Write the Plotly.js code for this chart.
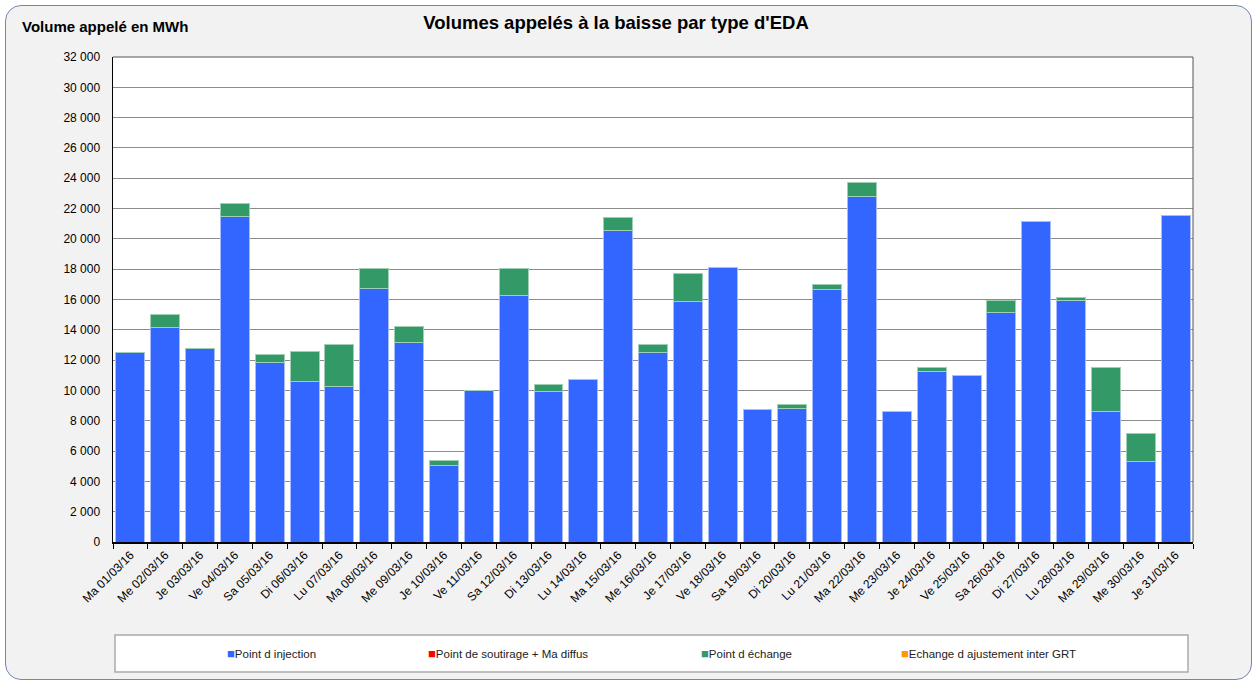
<!DOCTYPE html>
<html>
<head>
<meta charset="utf-8">
<script src="https://cdn.plot.ly/plotly-3.0.1.min.js"></script>
<style>
html,body{margin:0;padding:0;background:#ffffff;}
#frame{position:absolute;left:5px;top:5px;width:1247px;height:675px;box-sizing:border-box;border:1.5px solid #7088ab;border-radius:16px;background:#f2f2f2;}
#chart{position:absolute;left:0;top:0;width:1254px;height:680px;}
</style>
</head>
<body>
<div id="frame"></div>
<div id="chart"></div>
<script>
const categories = ["Ma 01/03/16","Me 02/03/16","Je 03/03/16","Ve 04/03/16","Sa 05/03/16","Di 06/03/16","Lu 07/03/16","Ma 08/03/16","Me 09/03/16","Je 10/03/16","Ve 11/03/16","Sa 12/03/16","Di 13/03/16","Lu 14/03/16","Ma 15/03/16","Me 16/03/16","Je 17/03/16","Ve 18/03/16","Sa 19/03/16","Di 20/03/16","Lu 21/03/16","Ma 22/03/16","Me 23/03/16","Je 24/03/16","Ve 25/03/16","Sa 26/03/16","Di 27/03/16","Lu 28/03/16","Ma 29/03/16","Me 30/03/16","Je 31/03/16"];
const injection = [12490,14180,12760,21500,11870,10580,10290,16750,13190,5040,9990,16270,9960,10690,20580,12530,15900,18120,8750,8840,16650,22780,8640,11240,10980,15170,21150,15940,8640,5340,21550];
const soutirage = [0,0,0,0,0,0,0,0,0,0,0,0,0,0,0,0,0,0,0,0,0,0,0,0,0,0,0,0,0,0,0];
const echange = [0,820,0,820,510,2000,2750,1300,1040,350,0,1780,440,0,840,510,1800,0,0,240,330,950,0,260,0,750,0,220,2860,1810,0];
const ajustement = [0,0,0,0,0,0,0,0,0,0,0,0,0,0,0,0,0,0,0,0,0,0,0,0,0,0,0,0,0,0,0];
const seriesNames = ["Point d injection","Point de soutirage + Ma diffus","Point d échange","Echange d ajustement inter GRT"];
const yTicks = [0,2000,4000,6000,8000,10000,12000,14000,16000,18000,20000,22000,24000,26000,28000,30000,32000];

const colors = ["#3366ff","#ff0000","#339966","#ff9900"];
const lineColors = ["#a9bbff","#ff9999","#9fd0b5","#ffcc80"];
const vals = [injection, soutirage, echange, ajustement];
const traces = vals.map((v,i)=>({
  type:"bar", x:categories, y:v, name:seriesNames[i],
  marker:{color:colors[i], line:{color:lineColors[i], width:(v.some(d=>d>0)?1:0)}},
  hoverinfo:"x+y+name", showlegend:false
}));

// legend (as text entries inside the framed box)
const legPx = [225,426,699,899];
const legendAnn = seriesNames.map((n,i)=>({
  text:"<span style='font-size:13px;color:"+colors[i]+"'>■</span>"+n,
  xref:"paper", yref:"paper", x:(legPx[i]-113)/1080, y:(542-653)/485,
  xanchor:"left", yanchor:"middle", showarrow:false,
  font:{family:"Liberation Sans, Arial", size:11.5, color:"#222"}
}));

const layout = {
  width:1254, height:680,
  paper_bgcolor:"rgba(0,0,0,0)", plot_bgcolor:"#ffffff",
  margin:{l:113, r:61, t:57, b:138},
  barmode:"stack", bargap:0.17,
  separators:", ",
  font:{family:"Liberation Sans, Arial", size:12, color:"#000"},
  title:{text:"<b>Volumes appelés à la baisse par type d'EDA</b>", x:616/1254, xref:"container", xanchor:"center", y:1-23/680, yref:"container", yanchor:"middle", font:{family:"Liberation Sans, Arial", size:18.5, color:"#000"}},
  xaxis:{type:"category", tickangle:-45, tickson:"boundaries", ticks:"outside", ticklen:5, tickcolor:"#000",
    showline:true, linecolor:"#000", linewidth:1.5, showgrid:false, tickfont:{size:12}, automargin:false},
  yaxis:{range:[0,32000], tickvals:yTicks, tickformat:",d", showline:true, linecolor:"#000", linewidth:1.5,
    gridcolor:"#8c8c8c", gridwidth:1, ticks:"", tickfont:{size:12}, zeroline:false, automargin:false, ticklabelstandoff:9},
  showlegend:false,
  annotations:[{text:"<b>Volume appelé en MWh</b>", xref:"paper", yref:"paper", x:(20-113)/1080, y:(542-26)/485, xanchor:"left", yanchor:"middle", showarrow:false, font:{size:15, color:"#000"}}].concat(legendAnn),
  shapes:[
    {type:"line", xref:"paper", yref:"paper", x0:0, x1:1, y0:1, y1:1, line:{color:"#555", width:1}},
    {type:"line", xref:"paper", yref:"paper", x0:1, x1:1, y0:0, y1:1, line:{color:"#555", width:1}},
    {type:"rect", xref:"paper", yref:"paper", x0:2/1080, x1:1075/1080, y0:(542-635)/485, y1:(542-672)/485, line:{color:"#aaaaaa", width:1.5}, fillcolor:"#ffffff", layer:"below"}
  ]
};
Plotly.newPlot("chart", traces, layout, {displayModeBar:false, staticPlot:true});
</script>
</body>
</html>
